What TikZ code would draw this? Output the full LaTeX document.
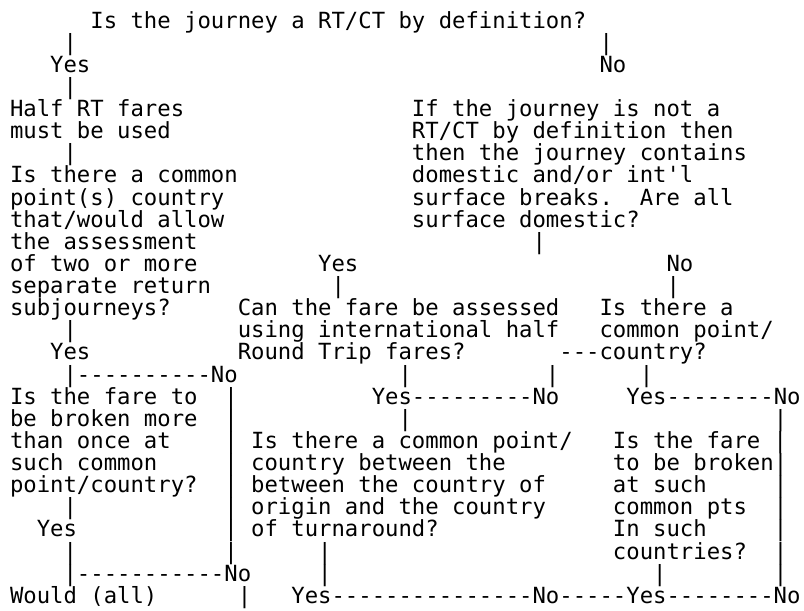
\documentclass[tikz,border=0pt]{standalone}
\usepackage{fontspec}
\setmonofont{DejaVu Sans Mono}
\newcommand\asciifont{\ttfamily\fontsize{22.257pt}{24pt}\selectfont\frenchspacing}
\newcommand\gap[1]{\kern #1\fontcharwd\font`M\relax}
\begin{document}
\begin{tikzpicture}[x=1pt,y=1pt,
  asciirow/.style={anchor=base west, inner sep=0pt, outer sep=0pt, font=\asciifont, text=black}]
\fill[white] (0,0) rectangle (804,-611);
\path[use as bounding box] (0,0) rectangle (804,-611);
\node[asciirow] (r0)  at (10,{-28-22.13*0})  {\gap{6}Is the journey a RT/CT by definition?};
\node[asciirow] (r1)  at (10,{-28-22.13*1})  {\gap{4}|\gap{39}|};
\node[asciirow] (r2)  at (10,{-28-22.13*2})  {\gap{3}Yes\gap{38}No};
\node[asciirow] (r3)  at (10,{-28-22.13*3})  {\gap{4}|};
\node[asciirow] (r4)  at (10,{-28-22.13*4})  {Half RT fares\gap{17}If the journey is not a};
\node[asciirow] (r5)  at (10,{-28-22.13*5})  {must be used\gap{18}RT/CT by definition then};
\node[asciirow] (r6)  at (10,{-28-22.13*6})  {\gap{4}|\gap{25}then the journey contains};
\node[asciirow] (r7)  at (10,{-28-22.13*7})  {Is there a common\gap{13}domestic and/or int'l};
\node[asciirow] (r8)  at (10,{-28-22.13*8})  {point(s) country\gap{14}surface breaks.\gap{2}Are all};
\node[asciirow] (r9)  at (10,{-28-22.13*9})  {that/would allow\gap{14}surface domestic?};
\node[asciirow] (r10) at (10,{-28-22.13*10}) {the assessment\gap{25}|};
\node[asciirow] (r11) at (10,{-28-22.13*11}) {of two or more\gap{9}Yes\gap{23}No};
\node[asciirow] (r12) at (10,{-28-22.13*12}) {separate return\gap{9}|\gap{24}|};
\node[asciirow] (r13) at (10,{-28-22.13*13}) {subjourneys?\gap{5}Can the fare be assessed\gap{3}Is there a};
\node[asciirow] (r14) at (10,{-28-22.13*14}) {\gap{4}|\gap{12}using international half\gap{3}common point/};
\node[asciirow] (r15) at (10,{-28-22.13*15}) {\gap{3}Yes\gap{11}Round Trip fares?\gap{7}---country?};
\node[asciirow] (r16) at (10,{-28-22.13*16}) {\gap{4}|----------No\gap{12}|\gap{10}|\gap{6}|};
\node[asciirow] (r17) at (10,{-28-22.13*17}) {Is the fare to\gap{2}|\gap{10}Yes---------No\gap{5}Yes--------No};
\node[asciirow] (r18) at (10,{-28-22.13*18}) {be broken more\gap{2}|\gap{12}|\gap{27}|};
\node[asciirow] (r19) at (10,{-28-22.13*19}) {than once at\gap{4}|\gap{1}Is there a common point/\gap{3}Is the fare\gap{1}|};
\node[asciirow] (r20) at (10,{-28-22.13*20}) {such common\gap{5}|\gap{1}country between the\gap{8}to be broken|};
\node[asciirow] (r21) at (10,{-28-22.13*21}) {point/country?\gap{2}|\gap{1}between the country of\gap{5}at such\gap{5}|};
\node[asciirow] (r22) at (10,{-28-22.13*22}) {\gap{4}|\gap{11}|\gap{1}origin and the country\gap{5}common pts\gap{2}|};
\node[asciirow] (r23) at (10,{-28-22.13*23}) {\gap{2}Yes\gap{11}|\gap{1}of turnaround?\gap{13}In such\gap{5}|};
\node[asciirow] (r24) at (10,{-28-22.13*24}) {\gap{4}|\gap{11}|\gap{6}|\gap{21}countries?\gap{2}|};
\node[asciirow] (r25) at (10,{-28-22.13*25}) {\gap{4}|-----------No\gap{5}|\gap{24}|\gap{8}|};
\node[asciirow] (r26) at (10,{-28-22.13*26}) {Would (all)\gap{6}|\gap{3}Yes---------------No-----Yes--------No};
\end{tikzpicture}
\end{document}
